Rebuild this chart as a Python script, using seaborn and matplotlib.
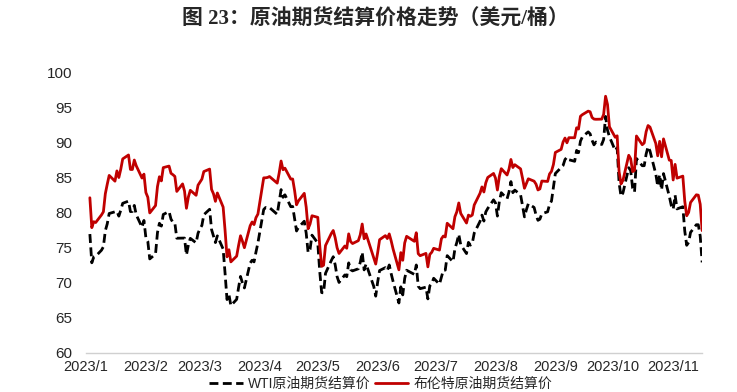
import pandas as pd
import seaborn as sns
import matplotlib.pyplot as plt
import matplotlib.dates as mdates

# 布伦特原油期货结算价 (USD/bbl), 2023
brent_dates = [
    "01-03", "01-04", "01-05", "01-06", "01-09", "01-10", "01-11", "01-12", "01-13", "01-16", "01-17",
    "01-18", "01-19", "01-20", "01-23", "01-24", "01-25", "01-26", "01-27", "01-30", "01-31",
    "02-01", "02-02", "02-03", "02-06", "02-07", "02-08", "02-09", "02-10", "02-13", "02-14", "02-15",
    "02-16", "02-17", "02-20", "02-21", "02-22", "02-23", "02-24", "02-27", "02-28",
    "03-01", "03-02", "03-03", "03-06", "03-07", "03-08", "03-09", "03-10", "03-13", "03-14", "03-15",
    "03-16", "03-17", "03-20", "03-21", "03-22", "03-23", "03-24", "03-27", "03-28", "03-29", "03-30", "03-31",
    "04-03", "04-04", "04-05", "04-06", "04-10", "04-11", "04-12", "04-13", "04-14", "04-17", "04-18",
    "04-19", "04-20", "04-21", "04-24", "04-25", "04-26", "04-27", "04-28",
    "05-01", "05-02", "05-03", "05-04", "05-05", "05-08", "05-09", "05-10", "05-11", "05-12", "05-15",
    "05-16", "05-17", "05-18", "05-19", "05-22", "05-23", "05-24", "05-25", "05-26", "05-30", "05-31",
    "06-01", "06-02", "06-05", "06-06", "06-07", "06-08", "06-09", "06-12", "06-13", "06-14", "06-15",
    "06-16", "06-19", "06-20", "06-21", "06-22", "06-23", "06-26", "06-27", "06-28", "06-29", "06-30",
    "07-03", "07-04", "07-05", "07-06", "07-07", "07-10", "07-11", "07-12", "07-13", "07-14", "07-17",
    "07-18", "07-19", "07-20", "07-21", "07-24", "07-25", "07-26", "07-27", "07-28", "07-31",
    "08-01", "08-02", "08-03", "08-04", "08-07", "08-08", "08-09", "08-10", "08-11", "08-14", "08-15",
    "08-16", "08-17", "08-18", "08-21", "08-22", "08-23", "08-24", "08-25", "08-28", "08-29", "08-30", "08-31",
    "09-01", "09-04", "09-05", "09-06", "09-07", "09-08", "09-11", "09-12", "09-13", "09-14", "09-15",
    "09-18", "09-19", "09-20", "09-21", "09-22", "09-25", "09-26", "09-27", "09-28", "09-29",
    "10-02", "10-03", "10-04", "10-05", "10-06", "10-09", "10-10", "10-11", "10-12", "10-13", "10-16",
    "10-17", "10-18", "10-19", "10-20", "10-23", "10-24", "10-25", "10-26", "10-27", "10-30", "10-31",
    "11-01", "11-02", "11-03", "11-06", "11-07", "11-08", "11-09", "11-10", "11-13", "11-14", "11-15", "11-16",
]
brent = [
    82.10, 77.84, 78.69, 78.57, 79.65, 80.10, 82.67, 84.03, 85.28, 84.46, 85.92,
    84.98, 86.16, 87.63, 88.19, 86.13, 86.12, 87.47, 86.66, 84.90, 85.46,
    82.84, 82.17, 79.94, 80.99, 83.69, 85.09, 84.50, 86.39, 86.61, 85.58, 85.38,
    85.14, 83.00, 84.07, 83.05, 80.60, 82.21, 83.16, 82.45, 83.89,
    84.31, 84.75, 85.83, 86.18, 83.29, 82.66, 81.59, 82.78, 80.77, 77.45, 73.69,
    74.70, 72.97, 73.79, 75.32, 76.69, 75.91, 74.99, 78.12, 78.65, 78.28, 79.27, 79.77,
    84.93, 84.94, 84.99, 85.12, 84.18, 85.61, 87.33, 86.09, 86.31, 84.76, 84.77,
    83.12, 81.10, 81.66, 82.73, 80.77, 77.69, 78.37, 79.54,
    79.31, 75.32, 72.33, 72.50, 75.30, 77.01, 77.44, 76.41, 74.98, 74.17, 75.23,
    74.91, 76.96, 75.86, 75.58, 75.99, 76.84, 78.36, 76.26, 76.95, 73.54, 72.66,
    74.28, 76.13, 76.71, 76.29, 76.95, 75.96, 74.79, 71.84, 74.29, 73.20, 75.67,
    76.61, 76.09, 75.90, 77.12, 74.14, 73.85, 74.18, 72.26, 74.03, 74.34, 74.90,
    74.65, 76.25, 76.65, 76.52, 78.47, 77.69, 79.40, 80.11, 81.36, 79.87, 78.50,
    79.63, 79.46, 79.64, 81.07, 82.74, 83.64, 82.92, 84.24, 84.99, 85.56,
    84.91, 83.20, 85.14, 86.24, 85.34, 86.17, 87.55, 86.40, 86.81, 86.21, 84.89,
    83.45, 84.12, 84.80, 84.46, 84.03, 83.21, 83.36, 84.48, 84.42, 85.49, 85.86, 86.83,
    88.55, 88.99, 90.04, 90.60, 89.92, 90.65, 90.64, 92.06, 91.88, 93.70, 93.93,
    94.43, 94.34, 93.53, 93.30, 93.27, 93.29, 93.96, 96.55, 95.38, 92.20,
    90.71, 90.92, 85.81, 84.07, 84.58, 88.15, 87.65, 85.82, 86.00, 90.89, 89.65,
    89.90, 91.50, 92.38, 92.16, 89.83, 88.07, 90.13, 87.93, 90.48, 87.45, 87.41,
    84.63, 86.85, 84.89, 85.18, 81.61, 79.54, 80.01, 81.43, 82.52, 82.47, 81.18, 77.42,
]

# WTI原油期货结算价 (USD/bbl), 2023
wti_dates = [
    "01-03", "01-04", "01-05", "01-06", "01-09", "01-10", "01-11", "01-12", "01-13", "01-17",
    "01-18", "01-19", "01-20", "01-23", "01-24", "01-25", "01-26", "01-27", "01-30", "01-31",
    "02-01", "02-02", "02-03", "02-06", "02-07", "02-08", "02-09", "02-10", "02-13", "02-14", "02-15",
    "02-16", "02-17", "02-21", "02-22", "02-23", "02-24", "02-27", "02-28",
    "03-01", "03-02", "03-03", "03-06", "03-07", "03-08", "03-09", "03-10", "03-13", "03-14", "03-15",
    "03-16", "03-17", "03-20", "03-21", "03-22", "03-23", "03-24", "03-27", "03-28", "03-29", "03-30", "03-31",
    "04-03", "04-04", "04-05", "04-06", "04-10", "04-11", "04-12", "04-13", "04-14", "04-17", "04-18",
    "04-19", "04-20", "04-21", "04-24", "04-25", "04-26", "04-27", "04-28",
    "05-01", "05-02", "05-03", "05-04", "05-05", "05-08", "05-09", "05-10", "05-11", "05-12", "05-15",
    "05-16", "05-17", "05-18", "05-19", "05-22", "05-23", "05-24", "05-25", "05-26", "05-30", "05-31",
    "06-01", "06-02", "06-05", "06-06", "06-07", "06-08", "06-09", "06-12", "06-13", "06-14", "06-15",
    "06-16", "06-20", "06-21", "06-22", "06-23", "06-26", "06-27", "06-28", "06-29", "06-30",
    "07-03", "07-05", "07-06", "07-07", "07-10", "07-11", "07-12", "07-13", "07-14", "07-17",
    "07-18", "07-19", "07-20", "07-21", "07-24", "07-25", "07-26", "07-27", "07-28", "07-31",
    "08-01", "08-02", "08-03", "08-04", "08-07", "08-08", "08-09", "08-10", "08-11", "08-14", "08-15",
    "08-16", "08-17", "08-18", "08-21", "08-22", "08-23", "08-24", "08-25", "08-28", "08-29", "08-30", "08-31",
    "09-01", "09-05", "09-06", "09-07", "09-08", "09-11", "09-12", "09-13", "09-14", "09-15",
    "09-18", "09-19", "09-20", "09-21", "09-22", "09-25", "09-26", "09-27", "09-28", "09-29",
    "10-02", "10-03", "10-04", "10-05", "10-06", "10-09", "10-10", "10-11", "10-12", "10-13", "10-16",
    "10-17", "10-18", "10-19", "10-20", "10-23", "10-24", "10-25", "10-26", "10-27", "10-30", "10-31",
    "11-01", "11-02", "11-03", "11-06", "11-07", "11-08", "11-09", "11-10", "11-13", "11-14", "11-15", "11-16",
]
wti = [
    76.93, 72.84, 73.67, 73.77, 74.63, 75.12, 77.41, 78.39, 79.86, 80.18,
    79.48, 80.33, 81.31, 81.62, 80.13, 80.15, 81.01, 79.68, 77.90, 78.87,
    76.41, 75.88, 73.39, 74.11, 77.14, 78.47, 78.06, 79.72, 80.14, 79.06, 78.59,
    78.49, 76.34, 76.36, 73.95, 75.39, 76.32, 75.68, 77.05,
    77.69, 78.16, 79.68, 80.46, 77.58, 76.66, 75.72, 76.68, 74.80, 71.33, 67.61,
    68.35, 66.74, 67.64, 69.33, 70.90, 69.96, 69.26, 72.81, 73.20, 72.97, 74.37, 75.67,
    80.42, 80.71, 80.61, 80.70, 79.74, 81.53, 83.26, 82.16, 82.52, 80.83, 80.86,
    79.16, 77.37, 77.87, 78.76, 77.07, 74.30, 74.76, 76.78,
    75.66, 71.66, 68.60, 68.56, 71.34, 73.16, 73.71, 72.56, 70.87, 70.04, 71.11,
    70.86, 72.83, 71.86, 71.69, 71.99, 72.91, 74.34, 71.83, 72.67, 69.46, 68.09,
    70.10, 71.74, 72.15, 71.74, 72.53, 71.29, 70.17, 67.12, 69.42, 68.27, 70.62,
    71.78, 71.19, 72.53, 69.51, 69.16, 69.37, 67.70, 69.56, 69.86, 70.64,
    69.79, 71.79, 71.80, 73.86, 72.99, 74.83, 75.75, 76.89, 75.42, 74.15,
    75.75, 75.35, 75.63, 77.07, 78.74, 79.63, 78.78, 80.09, 80.58, 81.80,
    81.37, 79.49, 81.55, 82.82, 81.94, 82.92, 84.40, 82.82, 83.19, 82.51, 80.99,
    79.38, 80.39, 81.25, 80.72, 79.64, 78.89, 79.05, 79.83, 80.10, 81.16, 81.63, 83.63,
    85.55, 86.69, 87.54, 87.87, 87.51, 87.29, 88.84, 88.52, 90.16, 90.77,
    91.48, 91.20, 90.28, 89.63, 90.03, 89.68, 90.39, 93.68, 91.71, 90.79,
    88.82, 89.23, 84.22, 82.31, 82.79, 86.38, 85.97, 83.49, 82.91, 87.69, 86.66,
    86.66, 88.32, 89.37, 88.75, 85.49, 83.74, 85.39, 83.21, 85.54, 82.31, 81.02,
    80.44, 82.46, 80.51, 80.82, 77.37, 75.33, 75.74, 77.17, 78.26, 78.26, 76.66, 72.90,
]

y_ticks = [60, 65, 70, 75, 80, 85, 90, 95, 100]

wti_df = pd.DataFrame({"date": pd.to_datetime(["2023-" + d for d in wti_dates]), "price": wti})
brent_df = pd.DataFrame({"date": pd.to_datetime(["2023-" + d for d in brent_dates]), "price": brent})

sns.set_style("white")
plt.rcParams["font.family"] = ["Liberation Sans", "Noto Sans CJK SC"]

fig = plt.figure(figsize=(7.37, 3.92), dpi=100)
ax = fig.add_axes([0.1167, 0.0995, 0.836, 0.7168])

sns.lineplot(data=wti_df, x="date", y="price", ax=ax, color="black",
             linewidth=2.0, linestyle=(0, (3.2, 1.6)), label="WTI原油期货结算价")
sns.lineplot(data=brent_df, x="date", y="price", ax=ax, color="#C00000",
             linewidth=2.0, label="布伦特原油期货结算价")

ax.set_ylim(60, 100)
ax.set_yticks(y_ticks)
ax.set_xlim(pd.Timestamp("2023-01-01"), pd.Timestamp("2023-11-16"))
ax.xaxis.set_major_locator(mdates.MonthLocator())
ax.xaxis.set_major_formatter(mdates.DateFormatter("%Y/%-m"))
ax.set_xlabel("")
ax.set_ylabel("")

for s in ["top", "right", "left"]:
    ax.spines[s].set_visible(False)
ax.spines["bottom"].set_color("#d0d0d0")
ax.spines["bottom"].set_linewidth(1.0)
ax.tick_params(axis="x", direction="in", length=5, color="#d0d0d0", labelsize=10.5, pad=5)
ax.tick_params(axis="y", length=0, labelsize=11, pad=10)

ax.get_legend().remove()
handles, labels = ax.get_legend_handles_labels()
fig.legend(handles, labels, loc="center", bbox_to_anchor=(0.517, 0.02), ncol=2, frameon=False,
           handlelength=2.4, handletextpad=0.4, columnspacing=0.3, borderpad=0.1,
           prop={"family": ["Liberation Sans", "Noto Sans CJK SC"], "size": 10})

fig.suptitle("图 23：原油期货结算价格走势（美元/桶）", x=0.51, y=0.975,
             fontsize=15, fontweight="bold", family=["Liberation Serif", "Noto Sans CJK SC"])

fig.savefig("out.png", dpi=100)
